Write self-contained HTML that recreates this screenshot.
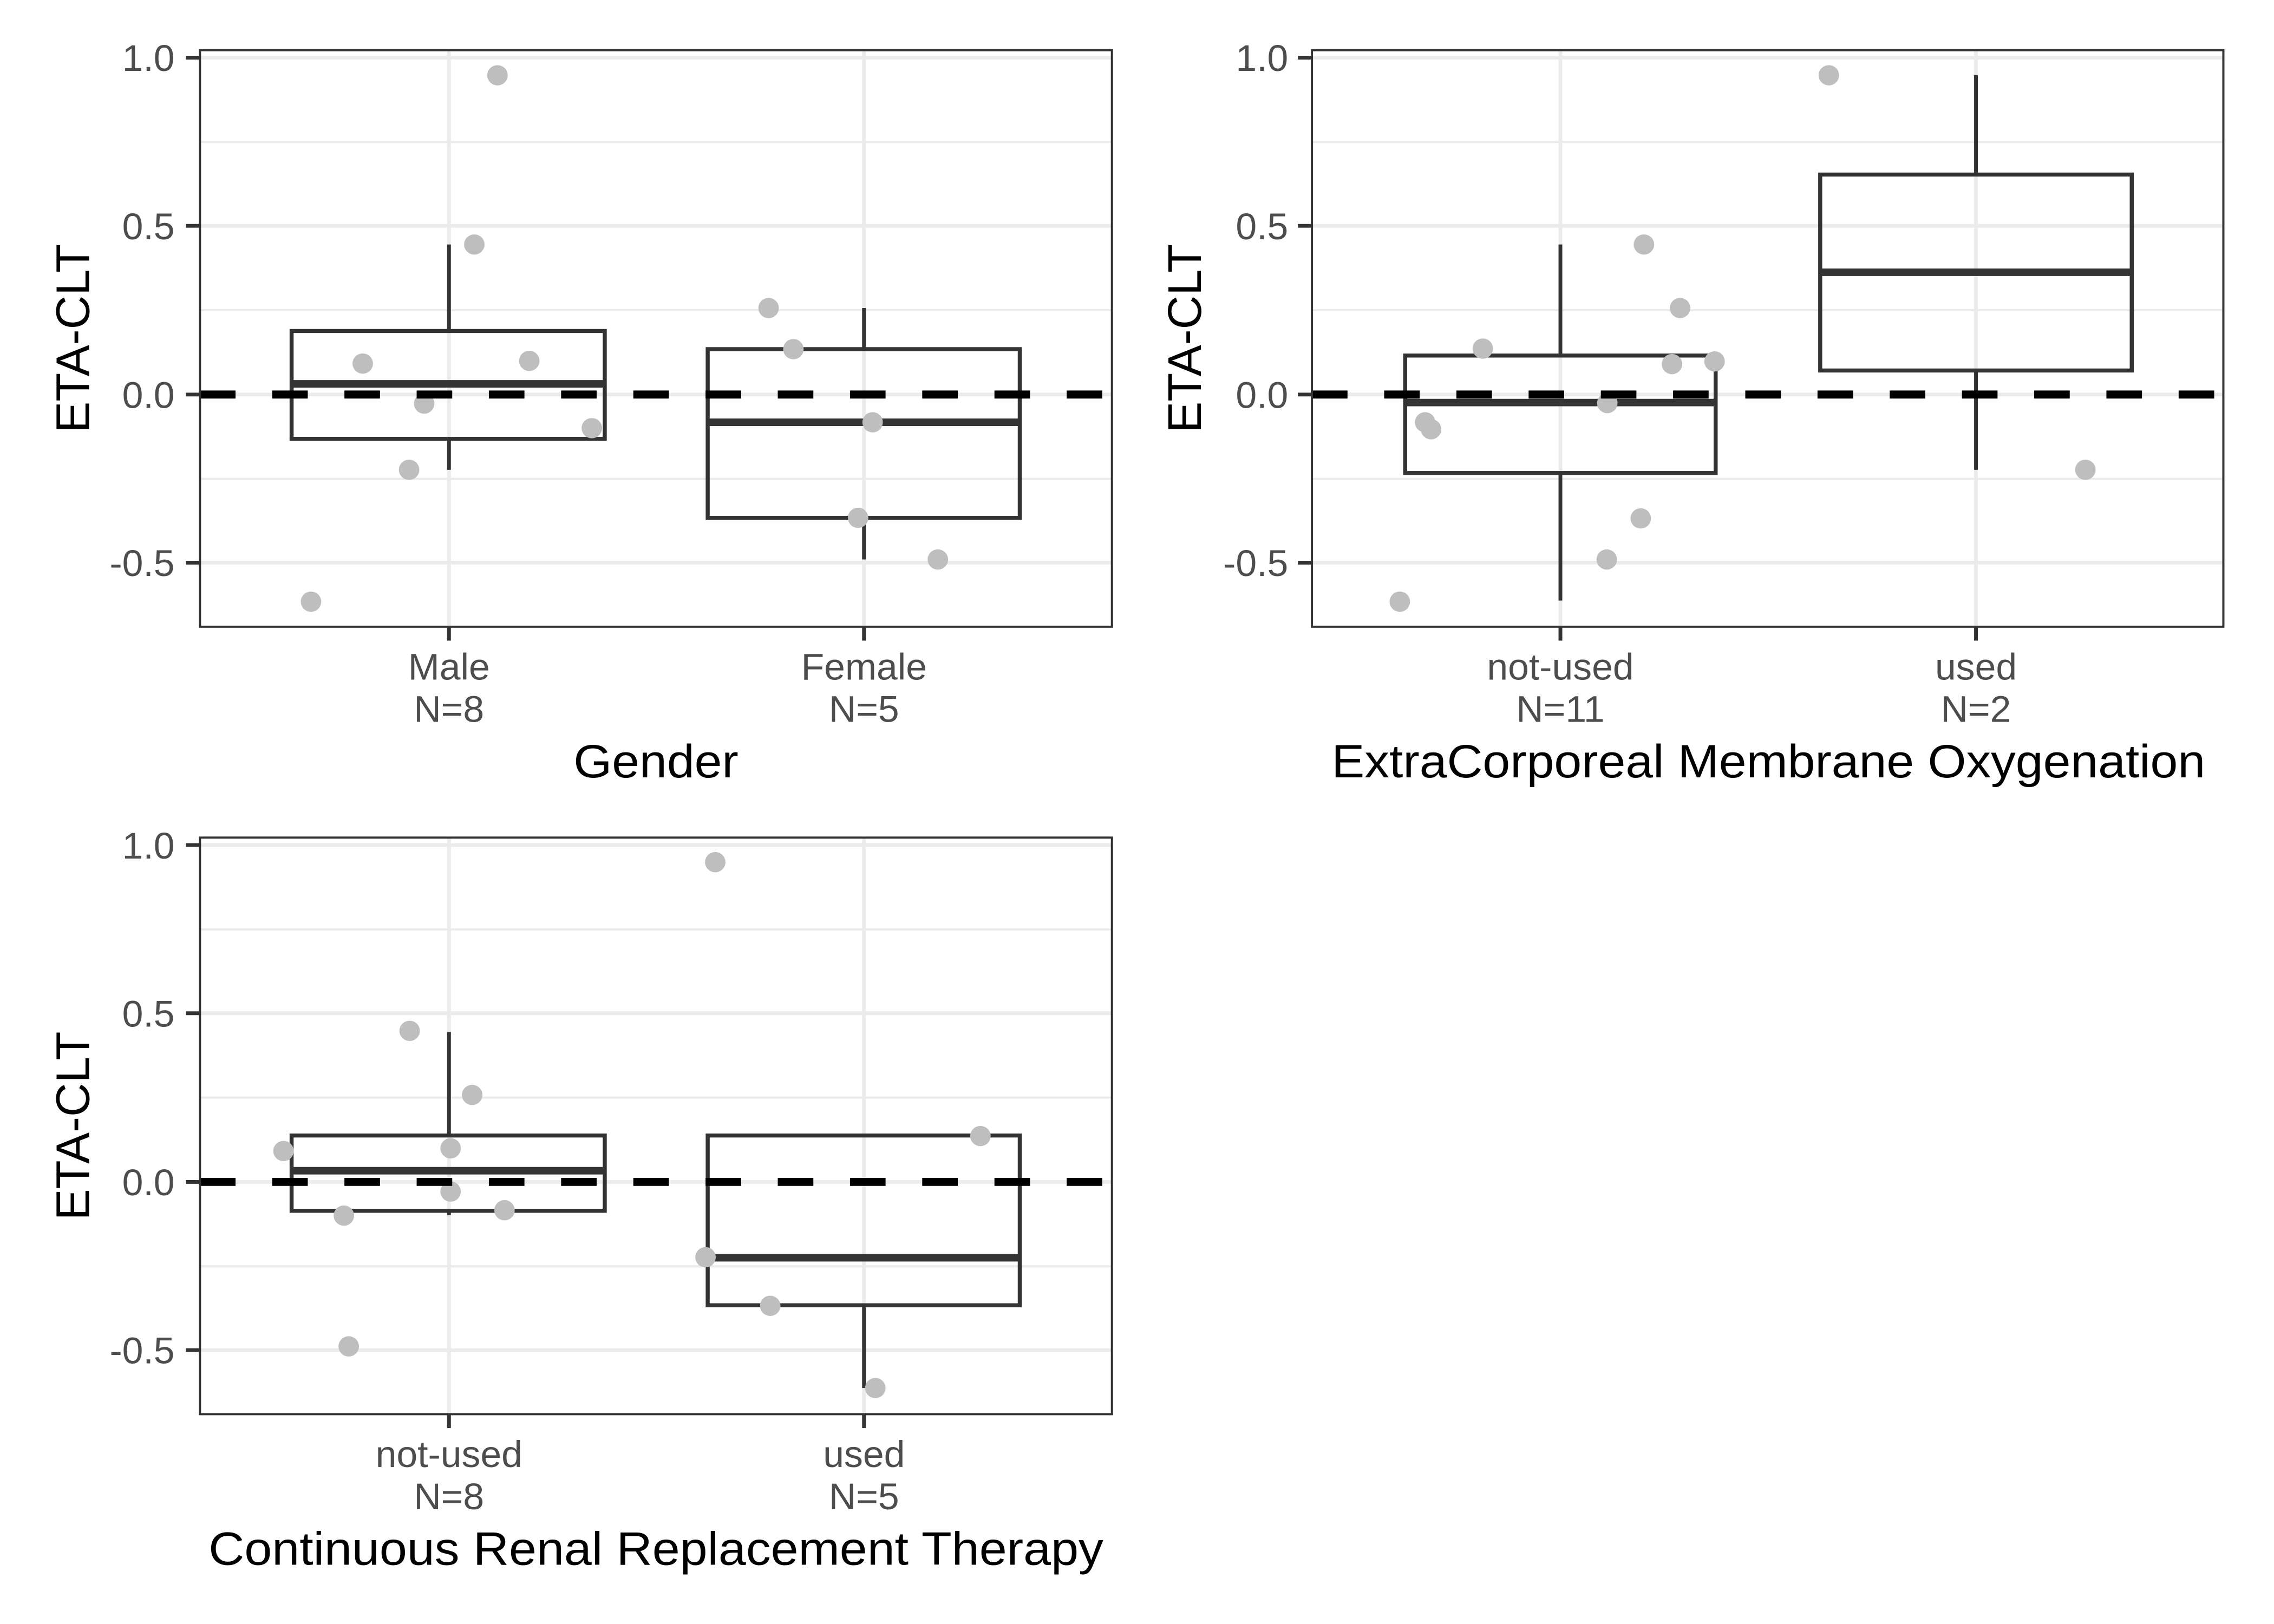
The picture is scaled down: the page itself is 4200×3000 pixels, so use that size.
<!DOCTYPE html>
<html><head><meta charset="utf-8"><style>
html,body{margin:0;padding:0;background:#fff;}
svg{display:block;}
text{font-family:"Liberation Sans",Arial,sans-serif;}
.tk{font-size:70px;fill:#4d4d4d;}
.tt{font-size:88px;fill:#000;}
.gmaj{stroke:#ebebeb;stroke-width:7;}
.gmin{stroke:#ebebeb;stroke-width:4;}
.box{fill:none;stroke:#333;stroke-width:7.5;}
.med{stroke:#333;stroke-width:14;}
.wh{stroke:#333;stroke-width:7;}
.pt{fill:#bebebe;}
.hl{stroke:#000;stroke-width:15;stroke-dasharray:66 68;}
.frame{fill:none;stroke:#333;stroke-width:4;}
.tick{stroke:#333;stroke-width:7;}
</style></head><body>
<svg width="4200" height="3000" viewBox="0 0 4200 3000" xmlns="http://www.w3.org/2000/svg">
<rect width="4200" height="3000" fill="#fff"/>

<!-- Panel 1 -->
<g transform="matrix(0.9955,0,0,0.9862,1,0)">
<line class="gmin" x1="370" x2="2062" y1="266" y2="266"/>
<line class="gmin" x1="370" x2="2062" y1="581" y2="581"/>
<line class="gmin" x1="370" x2="2062" y1="897" y2="897"/>
<line class="gmaj" x1="370" x2="2062" y1="108" y2="108"/>
<line class="gmaj" x1="370" x2="2062" y1="423" y2="423"/>
<line class="gmaj" x1="370" x2="2062" y1="739" y2="739"/>
<line class="gmaj" x1="370" x2="2062" y1="1054" y2="1054"/>
<line class="gmaj" x1="832" x2="832" y1="94" y2="1174"/>
<line class="gmaj" x1="1602" x2="1602" y1="94" y2="1174"/>
<line class="wh" x1="832" x2="832" y1="458" y2="620"/>
<line class="wh" x1="832" x2="832" y1="822" y2="880"/>
<rect class="box" x="540" y="620" width="581" height="202"/>
<line class="med" x1="540" x2="1121" y1="719" y2="719"/>
<line class="wh" x1="1602" x2="1602" y1="577" y2="654"/>
<line class="wh" x1="1602" x2="1602" y1="970" y2="1048"/>
<rect class="box" x="1312" y="654" width="579" height="316"/>
<line class="med" x1="1312" x2="1891" y1="791" y2="791"/>
<circle class="pt" cx="576" cy="1127" r="19"/><circle class="pt" cx="672" cy="681" r="19"/>
<circle class="pt" cx="758" cy="880" r="19"/><circle class="pt" cx="786" cy="756" r="19"/>
<circle class="pt" cx="879" cy="458" r="19"/><circle class="pt" cx="922" cy="141" r="19"/>
<circle class="pt" cx="981" cy="676" r="19"/><circle class="pt" cx="1097" cy="802" r="19"/>
<circle class="pt" cx="1425" cy="577" r="19"/><circle class="pt" cx="1471" cy="654" r="19"/>
<circle class="pt" cx="1618" cy="791" r="19"/><circle class="pt" cx="1591" cy="970" r="19"/>
<circle class="pt" cx="1739" cy="1048" r="19"/>
<line class="hl" x1="370" x2="2062" y1="739" y2="739"/>
<rect class="frame" x="370" y="94" width="1692" height="1080"/>
<line class="tick" x1="344" x2="370" y1="108" y2="108"/><line class="tick" x1="344" x2="370" y1="423" y2="423"/>
<line class="tick" x1="344" x2="370" y1="739" y2="739"/><line class="tick" x1="344" x2="370" y1="1054" y2="1054"/>
<line class="tick" x1="832" x2="832" y1="1174" y2="1200"/><line class="tick" x1="1602" x2="1602" y1="1174" y2="1200"/>
<text class="tk" x="323" y="133" text-anchor="end">1.0</text>
<text class="tk" x="323" y="448" text-anchor="end">0.5</text>
<text class="tk" x="323" y="764" text-anchor="end">0.0</text>
<text class="tk" x="323" y="1079" text-anchor="end">-0.5</text>
<text class="tk" x="832" y="1273" text-anchor="middle">Male</text>
<text class="tk" x="832" y="1352" text-anchor="middle">N=8</text>
<text class="tk" x="1602" y="1273" text-anchor="middle">Female</text>
<text class="tk" x="1602" y="1352" text-anchor="middle">N=5</text>
<text class="tt" x="1216" y="1456" text-anchor="middle" textLength="306" lengthAdjust="spacingAndGlyphs">Gender</text>
<text class="tt" transform="translate(164,634) rotate(-90)" text-anchor="middle">ETA-CLT</text>
</g>

<!-- Panel 2 -->
<g transform="matrix(0.9955,0,0,0.9862,10,0)">
<line class="gmin" x1="2424" x2="4115" y1="266" y2="266"/>
<line class="gmin" x1="2424" x2="4115" y1="581" y2="581"/>
<line class="gmin" x1="2424" x2="4115" y1="897" y2="897"/>
<line class="gmaj" x1="2424" x2="4115" y1="108" y2="108"/>
<line class="gmaj" x1="2424" x2="4115" y1="423" y2="423"/>
<line class="gmaj" x1="2424" x2="4115" y1="739" y2="739"/>
<line class="gmaj" x1="2424" x2="4115" y1="1054" y2="1054"/>
<line class="gmaj" x1="2885" x2="2885" y1="94" y2="1174"/>
<line class="gmaj" x1="3656" x2="3656" y1="94" y2="1174"/>
<line class="wh" x1="2885" x2="2885" y1="458" y2="666"/>
<line class="wh" x1="2885" x2="2885" y1="886" y2="1125"/>
<rect class="box" x="2597" y="666" width="576" height="220"/>
<line class="med" x1="2597" x2="3173" y1="754" y2="754"/>
<line class="wh" x1="3656" x2="3656" y1="141" y2="327"/>
<line class="wh" x1="3656" x2="3656" y1="694" y2="880"/>
<rect class="box" x="3367" y="327" width="578" height="367"/>
<line class="med" x1="3367" x2="3945" y1="510" y2="510"/>
<circle class="pt" cx="2587" cy="1127" r="19"/><circle class="pt" cx="2634" cy="791" r="19"/>
<circle class="pt" cx="2645" cy="804" r="19"/><circle class="pt" cx="2741" cy="653" r="19"/>
<circle class="pt" cx="2972" cy="755" r="19"/><circle class="pt" cx="2971" cy="1048" r="19"/>
<circle class="pt" cx="3034" cy="971" r="19"/><circle class="pt" cx="3040" cy="458" r="19"/>
<circle class="pt" cx="3092" cy="682" r="19"/><circle class="pt" cx="3107" cy="577" r="19"/>
<circle class="pt" cx="3171" cy="677" r="19"/><circle class="pt" cx="3383" cy="141" r="19"/>
<circle class="pt" cx="3859" cy="880" r="19"/>
<line class="hl" x1="2424" x2="4115" y1="739" y2="739"/>
<rect class="frame" x="2424" y="94" width="1691" height="1080"/>
<line class="tick" x1="2398" x2="2424" y1="108" y2="108"/><line class="tick" x1="2398" x2="2424" y1="423" y2="423"/>
<line class="tick" x1="2398" x2="2424" y1="739" y2="739"/><line class="tick" x1="2398" x2="2424" y1="1054" y2="1054"/>
<line class="tick" x1="2885" x2="2885" y1="1174" y2="1200"/><line class="tick" x1="3656" x2="3656" y1="1174" y2="1200"/>
<text class="tk" x="2380" y="133" text-anchor="end">1.0</text>
<text class="tk" x="2380" y="448" text-anchor="end">0.5</text>
<text class="tk" x="2380" y="764" text-anchor="end">0.0</text>
<text class="tk" x="2380" y="1079" text-anchor="end">-0.5</text>
<text class="tk" x="2885" y="1273" text-anchor="middle">not-used</text>
<text class="tk" x="2885" y="1352" text-anchor="middle">N=11</text>
<text class="tk" x="3656" y="1273" text-anchor="middle">used</text>
<text class="tk" x="3656" y="1352" text-anchor="middle">N=2</text>
<text class="tt" x="3271" y="1456" text-anchor="middle" textLength="1621" lengthAdjust="spacingAndGlyphs">ExtraCorporeal Membrane Oxygenation</text>
<text class="tt" transform="translate(2218,634) rotate(-90)" text-anchor="middle">ETA-CLT</text>
</g>

<!-- Panel 3 -->
<g transform="matrix(0.9955,0,0,0.9862,1,1454.6)">
<line class="gmin" x1="370" x2="2062" y1="266" y2="266"/>
<line class="gmin" x1="370" x2="2062" y1="581" y2="581"/>
<line class="gmin" x1="370" x2="2062" y1="897" y2="897"/>
<line class="gmaj" x1="370" x2="2062" y1="108" y2="108"/>
<line class="gmaj" x1="370" x2="2062" y1="423" y2="423"/>
<line class="gmaj" x1="370" x2="2062" y1="739" y2="739"/>
<line class="gmaj" x1="370" x2="2062" y1="1054" y2="1054"/>
<line class="gmaj" x1="832" x2="832" y1="94" y2="1174"/>
<line class="gmaj" x1="1602" x2="1602" y1="94" y2="1174"/>
<line class="wh" x1="832" x2="832" y1="458" y2="652"/>
<line class="wh" x1="832" x2="832" y1="793" y2="801"/>
<rect class="box" x="540" y="652" width="581" height="141"/>
<line class="med" x1="540" x2="1121" y1="718" y2="718"/>
<line class="wh" x1="1602" x2="1602" y1="970" y2="1125"/>
<rect class="box" x="1312" y="652" width="579" height="318"/>
<line class="med" x1="1312" x2="1891" y1="881" y2="881"/>
<circle class="pt" cx="525" cy="681" r="19"/><circle class="pt" cx="637" cy="802" r="19"/>
<circle class="pt" cx="646" cy="1047" r="19"/><circle class="pt" cx="759" cy="456" r="19"/>
<circle class="pt" cx="835" cy="676" r="19"/><circle class="pt" cx="835" cy="757" r="19"/>
<circle class="pt" cx="875" cy="576" r="19"/><circle class="pt" cx="935" cy="792" r="19"/>
<circle class="pt" cx="1308" cy="880" r="19"/><circle class="pt" cx="1326" cy="140" r="19"/>
<circle class="pt" cx="1428" cy="971" r="19"/><circle class="pt" cx="1623" cy="1125" r="19"/>
<circle class="pt" cx="1818" cy="653" r="19"/>
<line class="hl" x1="370" x2="2062" y1="739" y2="739"/>
<rect class="frame" x="370" y="94" width="1692" height="1080"/>
<line class="tick" x1="344" x2="370" y1="108" y2="108"/><line class="tick" x1="344" x2="370" y1="423" y2="423"/>
<line class="tick" x1="344" x2="370" y1="739" y2="739"/><line class="tick" x1="344" x2="370" y1="1054" y2="1054"/>
<line class="tick" x1="832" x2="832" y1="1174" y2="1200"/><line class="tick" x1="1602" x2="1602" y1="1174" y2="1200"/>
<text class="tk" x="323" y="133" text-anchor="end">1.0</text>
<text class="tk" x="323" y="448" text-anchor="end">0.5</text>
<text class="tk" x="323" y="764" text-anchor="end">0.0</text>
<text class="tk" x="323" y="1079" text-anchor="end">-0.5</text>
<text class="tk" x="832" y="1273" text-anchor="middle">not-used</text>
<text class="tk" x="832" y="1352" text-anchor="middle">N=8</text>
<text class="tk" x="1602" y="1273" text-anchor="middle">used</text>
<text class="tk" x="1602" y="1352" text-anchor="middle">N=5</text>
<text class="tt" x="1216" y="1456" text-anchor="middle" textLength="1660" lengthAdjust="spacingAndGlyphs">Continuous Renal Replacement Therapy</text>
<text class="tt" transform="translate(164,634) rotate(-90)" text-anchor="middle">ETA-CLT</text>
</g>
</svg>
</body></html>
